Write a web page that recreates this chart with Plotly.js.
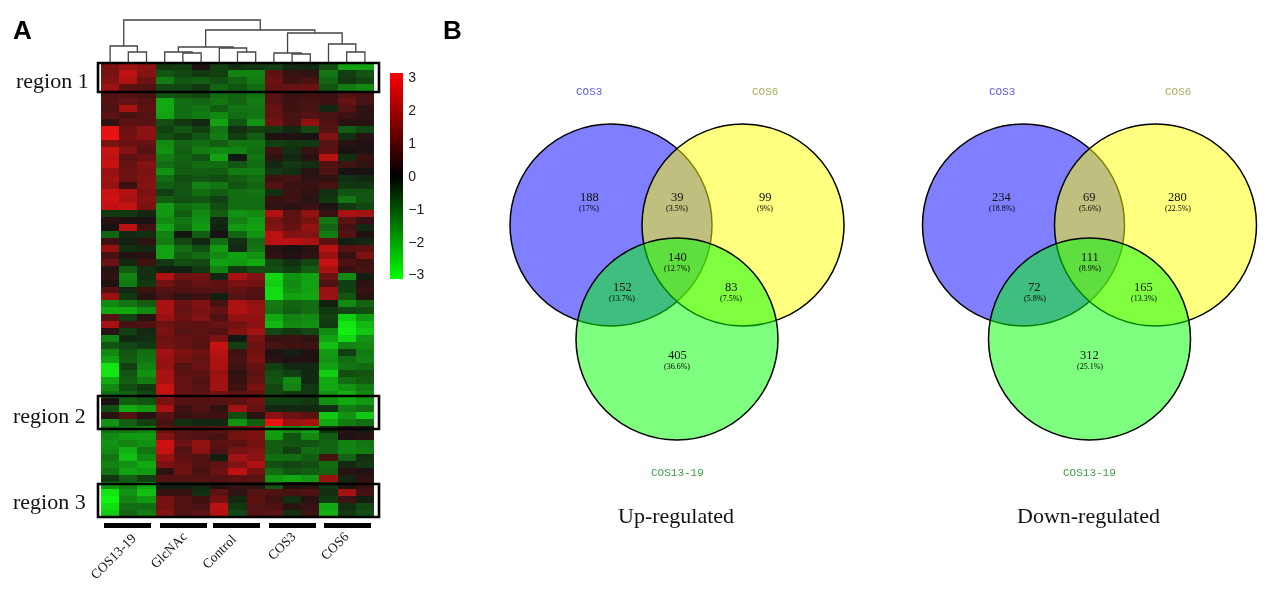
<!DOCTYPE html>
<html><head><meta charset="utf-8">
<script src="https://cdn.plot.ly/plotly-3.0.0.min.js"></script>
<style>html,body{margin:0;padding:0;background:#fff}#chart{width:1269px;height:589px;filter:blur(0.6px)}</style>
</head><body><div id="chart"></div>
<script>
// ---------- heatmap data (log-ratio; one row per band, top to bottom) ----------
const sampleGroups = ['COS13-19','GlcNAc','Control','COS3','COS6'];
const heatRows = [
[1.4,1.8,1.6,-.5,-.6,.2,-.6,-.4,-.5,-.6,-.3,-.3,-.8,-1.9,-1.9],
[1.3,2.3,1.5,-.9,-.7,-.5,-.6,-1.5,-1.5,1.0,.5,.4,-1.3,-.6,-.9],
[1.5,2.1,1.2,-1.4,-.9,-1.0,-.8,-1.1,-1.4,1.2,.6,.7,-1.1,-.5,-.7],
[1.8,1.0,.9,-.7,-.7,-.5,-1.1,-.9,-1.2,1.1,1.1,1.2,-.9,-1.4,-1.6],
[.8,.9,.7,-.9,-.8,-.7,-1.2,-1.1,-1.3,.9,.5,.6,.5,.9,.7],
[.9,1.1,.9,-2.0,-1.2,-1.1,-1.3,-1.1,-1.4,.9,.6,.7,.6,1.1,.7],
[.8,2.0,1.0,-2.0,-1.2,-1.3,-1.0,-1.3,-1.3,1.1,.6,.7,-.3,.9,.4],
[1.0,.7,.9,-1.9,-1.2,-1.4,-1.6,-1.2,-1.3,1.1,.7,.9,.7,.6,.4],
[.4,1.0,.9,-.8,-.5,-.3,-1.9,-.9,-1.7,1.3,.7,1.7,.8,.3,.3],
[2.8,1.2,1.6,-.6,-.9,-.6,-1.3,-.4,-.6,-.5,-.3,-.7,.9,-1.0,-.7],
[2.9,1.3,1.6,-.8,-.6,-.9,-1.4,-.6,-1.0,.2,.2,.1,1.5,-.4,.3],
[1.4,1.2,1.1,-1.6,-1.1,-1.2,-1.0,-1.3,-1.3,-.6,-.5,-.5,.9,.3,.2],
[2.4,1.5,.9,-1.7,-1.0,-1.4,-1.6,-1.5,-1.2,.6,-.4,.5,1.0,.1,.2],
[2.3,1.0,1.2,-1.4,-1.1,-.9,-1.9,-.1,-1.3,.4,-.3,.3,2.2,-.4,.5],
[2.4,1.1,1.5,-1.2,-1.0,-1.2,-1.2,-.9,-1.2,-.3,-.5,-.4,.9,.6,.4],
[1.8,1.2,1.4,-1.7,-1.0,-1.0,-1.0,-1.4,-1.4,-.5,-.4,.3,.8,.1,.1],
[1.9,1.2,1.5,-1.2,-.8,-.9,-.8,-1.0,-1.2,.6,.7,.4,.4,-.4,-.3],
[1.8,.5,1.5,-1.0,-.9,-1.5,-1.3,-.9,-1.1,.9,.5,.5,.7,-.5,-.5],
[2.4,2.1,1.4,-.6,-.9,-1.2,-1.0,-1.2,-1.3,-.4,.6,.4,-.4,-.9,-.9],
[2.5,2.0,1.5,-1.0,-.8,-.9,-.6,-1.2,-1.2,.5,.6,.3,-.5,-1.3,-.9],
[2.3,2.4,1.4,-1.8,-1.2,-1.4,-.8,-1.2,-1.2,.4,.3,.5,.2,-.5,-.7],
[-.5,-.5,-.3,-1.8,-1.0,-1.6,-1.0,-1.7,-1.6,2.1,1.0,1.7,.5,2.0,1.9],
[.3,.2,.1,-1.6,-1.3,-1.7,-.3,-1.5,-1.8,1.4,1.0,1.4,-1.3,1.0,.5],
[.1,2.2,.6,-1.9,-1.2,-1.8,-.2,-1.8,-1.9,1.5,1.1,1.7,-1.1,.7,-.3],
[-1.1,-.3,-.4,-1.5,-.1,-1.0,.1,-1.1,-1.7,2.2,1.5,1.5,-1.4,.9,.2],
[.6,-.2,.4,-1.4,-.7,-.3,-1.2,-.4,-1.2,2.2,2.2,2.0,1.0,-.2,-.3],
[1.7,-.4,-.3,-1.9,-1.2,-.8,-1.8,-.3,-1.3,.3,.1,.3,2.2,.9,1.0],
[.7,.2,.3,-1.9,-1.0,-1.2,-1.6,-1.9,-1.7,.4,.2,.4,1.8,.5,1.4],
[1.2,-.3,.6,-.5,-.8,-.7,-1.9,-1.8,-2.0,-.7,-.4,-.7,2.4,.8,.6],
[.3,-1.0,-.4,-.2,-.2,-.5,-1.5,-.5,-.8,-.8,-.6,-1.0,2.0,.5,.7],
[.4,-1.5,-.4,2.1,1.2,1.3,-.3,2.0,1.5,-2.6,-1.7,-1.9,1.2,-1.6,-.2],
[.2,-1.4,-.5,1.3,.9,1.1,1.0,1.4,1.3,-2.5,-1.6,-1.9,.8,-.6,.3],
[.9,-.3,.6,.9,.8,.9,.9,1.1,.9,-2.7,-1.7,-1.9,1.8,-.6,.5],
[1.8,-.5,.3,.7,.4,.6,-.2,.9,.8,-2.7,-1.9,-2.0,1.8,-.9,.3],
[-1.6,-1.3,-1.0,2.0,1.2,1.5,.7,2.0,1.7,-1.4,-1.1,-1.2,-.2,-1.6,-1.1],
[-2.0,-2.0,-1.6,2.0,1.1,1.4,1.1,2.1,1.8,-1.3,-1.0,-1.2,-.5,-.7,-.8],
[.9,-.6,.3,1.8,1.2,1.5,.8,1.7,1.7,-2.0,-1.5,-1.6,-.6,-2.5,-1.8],
[2.0,.7,.8,1.2,1.0,1.0,1.1,1.3,1.6,-2.2,-1.6,-1.7,-.5,-2.8,-2.2],
[.3,-.6,-.3,1.4,.9,1.0,.9,1.5,1.9,-.7,-.5,-.7,-1.6,-2.9,-2.4],
[-1.5,-.3,-.4,1.2,1.1,1.0,1.4,-.1,1.4,.5,.6,.4,-1.9,-2.6,-1.7],
[-.9,-.7,-.5,1.3,1.1,.9,2.4,-.6,1.2,.7,.6,.6,-2.3,-1.5,-1.6],
[-1.6,-.9,-1.2,1.9,1.4,1.2,2.2,.6,1.3,.2,-.2,.2,-1.8,-.6,-1.4],
[-1.9,-1.0,-1.3,1.8,1.3,1.1,2.1,.7,1.4,.3,.2,.2,-1.7,-1.2,-1.5],
[-2.8,-.6,-1.5,1.7,.9,1.2,2.0,.6,1.1,-.6,-.3,-.3,-1.9,-1.3,-1.2],
[-2.8,-.9,-1.7,2.0,1.0,1.0,1.8,.4,1.0,-.8,-.6,-.3,-2.5,-.8,-.9],
[-2.0,-1.0,-1.4,2.0,1.1,.8,1.9,.5,1.1,-.9,-1.6,-.3,-2.0,-1.2,-1.0],
[-1.6,-.8,-.5,2.4,1.1,.9,1.9,.6,1.4,-.7,-1.5,-.5,-2.0,-1.7,-1.4],
[-1.2,-1.1,-.7,2.4,1.1,1.0,1.3,1.0,1.1,-.7,-.5,-.5,-1.7,-2.1,-1.6],
[.1,-1.0,-.9,1.4,.9,.9,.9,1.0,1.3,-.6,-.6,-.5,-1.7,-2.0,-1.8],
[-.8,-2.0,-1.8,2.0,.6,.8,.4,1.9,1.1,-.3,-.3,-.3,-.4,-1.4,-1.2],
[.3,.9,.3,.9,.5,.6,.6,-.8,.3,1.6,1.2,1.0,-2.4,-1.7,-2.4],
[-1.7,-1.0,-.6,.7,-.4,-.3,-.3,-1.7,-1.0,2.9,1.8,2.0,-2.0,-1.4,-1.2],
[-1.3,-1.3,-1.5,1.1,.9,.9,1.0,1.2,1.5,-1.9,-1.6,-1.9,-.4,.3,-.1],
[-1.6,-1.8,-1.8,1.5,.9,.8,.7,1.3,1.4,-1.8,-.9,-1.6,-1.0,.2,.3],
[-1.7,-1.5,-1.7,2.5,1.2,1.7,1.0,1.0,1.3,-1.0,-.9,-.9,-1.1,-1.5,-1.3],
[-1.6,-2.1,-1.3,2.4,.9,1.6,.8,1.3,1.5,-1.0,-.6,-1.2,-1.1,-1.5,-1.4],
[-1.3,-2.3,-1.6,1.8,1.0,.9,-.2,1.9,1.6,-1.2,-1.2,-1.0,.7,-1.1,-.4],
[-1.5,-1.7,-2.0,1.4,1.2,.8,1.0,1.5,2.1,-.8,-.7,-.8,-1.2,-.3,-.5],
[-1.3,-1.9,-1.8,.4,1.2,.7,1.2,2.3,1.3,-1.2,-.9,-1.0,-1.1,.3,.2],
[-.5,-1.0,-.6,.9,.9,.9,.9,1.0,1.0,-1.8,-2.0,-1.8,1.8,-.3,.4],
[-1.7,-1.4,-2.0,-.2,-.2,-.3,.2,.5,.4,-.9,.2,.3,-.5,.2,.5],
[-2.8,-1.7,-2.3,.5,.5,-.4,1.0,.4,.9,.8,.7,.8,-.4,1.9,.7],
[-3,-1.5,-1.8,1.3,.8,.6,1.3,-.3,1.0,.6,-.4,.3,-.5,.6,-.2],
[-2.7,-1.2,-1.2,1.3,.9,.7,2.2,-.5,.9,.8,.3,.5,-2.0,-.4,-.7],
[-2.5,-1.1,-1.4,1.5,.8,1.0,2.1,-.7,.9,1.0,-.4,.6,-2.1,-.5,-.8]
];
const colorTicks = [3,2,1,0,-1,-2,-3];

// ---------- dendrogram: one U per merge (column positions and heights above the heatmap) ----------
const mergeLeft   = [1,0,4,3,7,6,3.75,10,9,13,12,9.75,5.25,.75];
const mergeRight  = [2,1.5,5,4.5,8,7.5,6.75,11,10.5,14,13.5,12.75,11.25,8.25];
const floorLeft   = [0,0,0,0,0,0,11,0,0,0,0,10,16,17];
const floorRight  = [0,11,0,10,0,11,15,0,9,0,11,19,30,33];
const mergeTop    = [11,17,10,11,11,15,16,9,10,11,19,30,33,43];

// ---------- Venn data ----------
const setNames = ['COS3','COS6','COS13-19'];
const regionKeys = ['COS3','COS3+COS6','COS6','all three','COS3+COS13-19','COS6+COS13-19','COS13-19'];
const upCounts = ['188','39','99','140','152','83','405'];
const upPercents = ['(17%)','(3.5%)','(9%)','(12.7%)','(13.7%)','(7.5%)','(36.6%)'];
const downCounts = ['234','69','280','111','72','165','312'];
const downPercents = ['(18.8%)','(5.6%)','(22.5%)','(8.9%)','(5.8%)','(13.3%)','(25.1%)'];

// ---------- layout positions (page pixels on the overlay axes) ----------
const W = 1269, H = 589;
const SERIF = '"Liberation Serif", serif', SANS = '"Liberation Sans", sans-serif', MONO = '"Liberation Mono", monospace';
const venns = [
  {dx:0,     title:'Up-regulated',   titleX:676,  counts:upCounts,   pcts:upPercents},
  {dx:412.5, title:'Down-regulated', titleX:1088, counts:downCounts, pcts:downPercents}
];
const circleC = [[611,225],[743,225],[677,339]], R = 101;
const circleFill = ['rgba(0,0,255,.5)','rgba(255,255,0,.5)','rgba(0,255,0,.5)'];
const setLabelPos = [[589,92],[765,92],[677,473]], setLabelCol = ['#5a5aee','#aaaa60','#3f9f45'];
const regionPos = [[589,197],[677,197],[765,197],[677,257],[622,287],[731,287],[677,355]];

const ann = [], shapes = [];
const txt = (x,y,t,size,color,font,extra) => ann.push(Object.assign({xref:'x2',yref:'y2',x,y,text:t,showarrow:false,
  font:{size,color,family:font||SERIF},xanchor:'center',yanchor:'middle'},extra||{}));

// veil: the printed heatmap never reaches pure black
shapes.push({type:'rect',xref:'x2',yref:'y2',x0:101,x1:374,y0:63,y1:517,fillcolor:'rgba(255,255,255,.07)',line:{width:0}});
venns.forEach(v=>{
  circleC.forEach((c,i)=>shapes.push({type:'circle',xref:'x2',yref:'y2',x0:c[0]+v.dx-R,x1:c[0]+v.dx+R,y0:c[1]-R,y1:c[1]+R,
    fillcolor:circleFill[i],line:{color:'#000',width:1.5},layer:'above'}));
  setNames.forEach((n,i)=>txt(setLabelPos[i][0]+v.dx,setLabelPos[i][1],n,11,setLabelCol[i],MONO));
  regionKeys.forEach((k,i)=>{
    txt(regionPos[i][0]+v.dx,regionPos[i][1],v.counts[i],12.5,'#111');
    txt(regionPos[i][0]+v.dx,regionPos[i][1]+11,v.pcts[i],8,'#000');
  });
  txt(v.titleX,515,v.title,22,'#111');
});

// region boxes and labels
[[63,92,'region 1',52,80],[396,429,'region 2',49,415],[484,517,'region 3',49,501]].forEach(r=>{
  shapes.push({type:'rect',xref:'x2',yref:'y2',x0:98,x1:379,y0:r[0],y1:r[1],line:{color:'#000',width:2.6},fillcolor:'rgba(0,0,0,0)'});
  txt(r[3],r[4],r[2],22,'#111');
});
// group bars and labels
const barX = [[104,151],[160,207],[213,260],[269,316],[324,371]];
const groupLabelPos = [[113,556],[168,550],[219,551],[281,546],[334,546]];
sampleGroups.forEach((g,i)=>{
  shapes.push({type:'rect',xref:'x2',yref:'y2',x0:barX[i][0],x1:barX[i][1],y0:523,y1:528,fillcolor:'#000',line:{width:0}});
  txt(groupLabelPos[i][0],groupLabelPos[i][1],g,13.5,'#111',SERIF,{textangle:-45});
});
txt(22,30,'<b>A</b>',26,'#000',SANS);
txt(452,30,'<b>B</b>',26,'#000',SANS);

// ---------- traces ----------
const dx = [], dy = [];
mergeTop.forEach((t,i)=>{
  dx.push(mergeLeft[i],mergeLeft[i],mergeRight[i],mergeRight[i],null);
  dy.push(floorLeft[i],t,t,floorRight[i],null);
});
const traces = [
 {type:'heatmap',z:heatRows,xaxis:'x',yaxis:'y',zmin:-3.14,zmax:3.14,hoverinfo:'skip',
  colorscale:[[0,'#00ff00'],[.5,'#000000'],[1,'#ff0000']],
  colorbar:{x:390/W,xanchor:'left',xpad:0,y:1-73/H,yanchor:'top',ypad:0,len:206,lenmode:'pixels',thickness:13,thicknessmode:'pixels',
    outlinewidth:0,ticks:'outside',ticklen:3,tickcolor:'rgba(0,0,0,0)',tickmode:'array',tickvals:colorTicks,tickfont:{size:14,color:'#222',family:SANS}}},
 {type:'scatter',mode:'lines',x:dx,y:dy,xaxis:'x',yaxis:'y3',hoverinfo:'skip',line:{color:'#444',width:1.3},showlegend:false}
];
const hidden = {visible:false,fixedrange:true};
const layout = {
 width:W,height:H,margin:{l:0,r:0,t:0,b:0},paper_bgcolor:'#fff',plot_bgcolor:'rgba(0,0,0,0)',showlegend:false,
 xaxis:Object.assign({domain:[101/W,374/W],range:[-.5,14.5]},hidden),
 yaxis:Object.assign({domain:[1-517/H,1-63/H],range:[64.5,-.5]},hidden),
 yaxis3:Object.assign({domain:[1-63/H,1-19/H],range:[0,44],anchor:'x'},hidden),
 xaxis2:Object.assign({domain:[0,1],range:[0,W],anchor:'y2'},hidden),
 yaxis2:Object.assign({domain:[0,1],range:[H,0],anchor:'x2'},hidden),
 shapes,annotations:ann
};
Plotly.newPlot('chart',traces,layout,{staticPlot:true,displayModeBar:false});
</script></body></html>
